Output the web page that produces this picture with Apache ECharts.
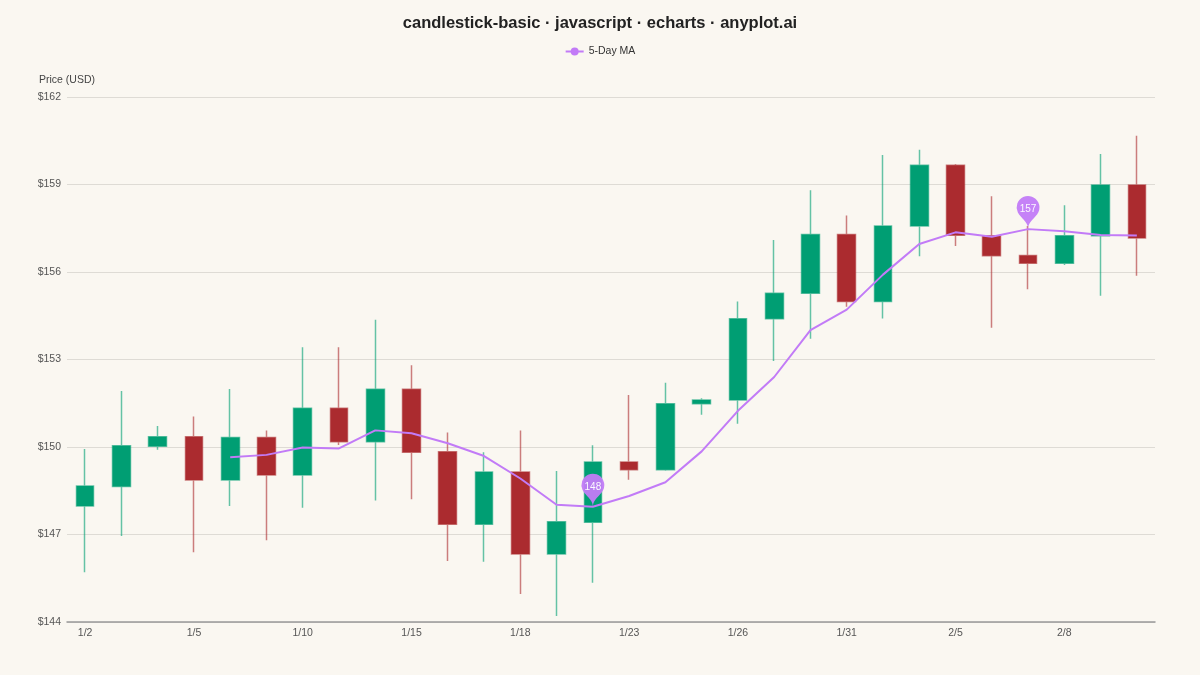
<!DOCTYPE html>
<html>
<head>
<meta charset="utf-8">
<title>candlestick-basic</title>
<script src="https://cdn.jsdelivr.net/npm/echarts@6/dist/echarts.min.js"></script>
<style>
    html, body {
        margin: 0;
        padding: 0;
        background: #faf7f1;
    }
    #chart {
        width: 1200px;
        height: 675px;
    }
</style>
</head>
<body>
<div id="chart"></div>
<script>
    // trading days
    var dates = ['1/2', '1/3', '1/4', '1/5', '1/8', '1/9', '1/10', '1/11', '1/12', '1/15',
        '1/16', '1/17', '1/18', '1/19', '1/22', '1/23', '1/24', '1/25', '1/26', '1/29',
        '1/30', '1/31', '2/1', '2/2', '2/5', '2/6', '2/7', '2/8', '2/9', '2/12'];
    // OHLC
    var opens = [147.98, 148.65, 150.03, 150.35, 148.87, 150.33, 149.04, 151.33, 150.18, 151.98,
        149.84, 147.35, 149.14, 146.33, 147.42, 149.49, 149.22, 151.48, 151.61, 154.40,
        155.27, 157.29, 154.99, 157.58, 159.66, 157.24, 156.57, 156.30, 157.24, 158.98];
    var closes = [148.66, 150.04, 150.35, 148.87, 150.33, 149.04, 151.33, 150.18, 151.98, 149.82,
        147.35, 149.14, 146.33, 147.44, 149.49, 149.22, 151.48, 151.61, 154.40, 155.27,
        157.29, 154.99, 157.58, 159.66, 157.26, 156.56, 156.30, 157.24, 158.98, 157.17];
    var lows = [145.71, 146.95, 149.91, 146.39, 147.98, 146.80, 147.92, 150.07, 148.17, 148.21,
        146.09, 146.07, 144.96, 144.21, 145.35, 148.88, 149.19, 151.11, 150.80, 152.95,
        153.71, 154.81, 154.41, 156.54, 156.89, 154.09, 155.41, 156.24, 155.19, 155.87];
    var highs = [149.93, 151.92, 150.72, 151.05, 151.99, 150.57, 153.42, 153.42, 154.36, 152.80,
        150.50, 149.82, 150.57, 149.18, 150.06, 151.78, 152.20, 151.67, 154.99, 157.10,
        158.80, 157.94, 160.01, 160.19, 159.70, 158.60, 157.58, 158.29, 160.05, 160.67];
    // 5-day moving average line
    var ma5 = ['-', '-', '-', '-', 149.65, 149.73, 149.98, 149.95, 150.57, 150.47,
        150.13, 149.69, 148.92, 148.02, 147.95, 148.32, 148.79, 149.85, 151.24, 152.40,
        154.01, 154.71, 155.91, 156.96, 157.36, 157.21, 157.47, 157.40, 157.27, 157.25];
    // y ticks
    var yMin = 144, yMax = 162, yStep = 3;

    var upColor = '#009e73';
    var downColor = '#ab2b2f';
    var maColor = '#c27bf7';

    // echarts candlestick wants [open, close, low, high]
    var kData = [];
    for (var i = 0; i < dates.length; i++) {
        kData.push([opens[i], closes[i], lows[i], highs[i]]);
    }

    var mychart = echarts.init(document.getElementById('chart'));
    var option = {
        backgroundColor: '#faf7f1',
        animation: false,
        textStyle: {fontFamily: 'Liberation Sans, Arial, sans-serif'},
        title: {
            text: 'candlestick-basic · javascript · echarts · anyplot.ai',
            left: 'center',
            top: 10,
            textStyle: {fontSize: 16.5, fontWeight: 'bold', color: '#222'}
        },
        legend: {
            top: 41,
            left: 'center',
            data: ['5-Day MA'],
            itemWidth: 18,
            itemHeight: 10,
            itemGap: 4,
            textStyle: {fontSize: 10.5, color: '#333'}
        },
        grid: {
            left: 67,
            right: 45,
            top: 97,
            bottom: 53
        },
        xAxis: {
            type: 'category',
            data: dates,
            boundaryGap: true,
            axisLine: {lineStyle: {color: '#999', width: 1.5}},
            axisTick: {show: false},
            axisLabel: {interval: 2, color: '#555', fontSize: 10.5, margin: 6},
            splitLine: {show: false}
        },
        yAxis: {
            type: 'value',
            name: 'Price (USD)',
            nameGap: 11,
            nameTextStyle: {color: '#444', fontSize: 10.5},
            min: yMin,
            max: yMax,
            interval: yStep,
            axisLine: {show: false},
            axisTick: {show: false},
            axisLabel: {
                color: '#555',
                fontSize: 10.5,
                margin: 6,
                formatter: function (v) { return '$' + v; }
            },
            splitLine: {lineStyle: {color: '#dedbd5', width: 1}}
        },
        series: [
            {
                name: 'OHLC',
                type: 'candlestick',
                data: kData,
                barWidth: '50%',
                itemStyle: {
                    color: upColor,
                    color0: downColor,
                    borderColor: 'rgba(0,158,115,0.6)',
                    borderColor0: 'rgba(171,43,47,0.6)',
                    borderWidth: 1.5
                }
            },
            {
                name: '5-Day MA',
                type: 'line',
                data: ma5,
                smooth: false,
                symbol: 'circle',
                symbolSize: 10,
                showSymbol: false,
                lineStyle: {color: maColor, width: 2},
                itemStyle: {color: maColor},
                markPoint: {
                    symbol: 'pin',
                    symbolSize: 38,
                    itemStyle: {color: maColor, opacity: 0.95},
                    label: {
                        color: '#fff',
                        fontSize: 10,
                        formatter: function (p) { return Math.round(p.value); }
                    },
                    data: [
                        {type: 'min', name: 'min'},
                        {type: 'max', name: 'max'}
                    ]
                }
            }
        ]
    };
    mychart.setOption(option);
</script>
</body>
</html>
